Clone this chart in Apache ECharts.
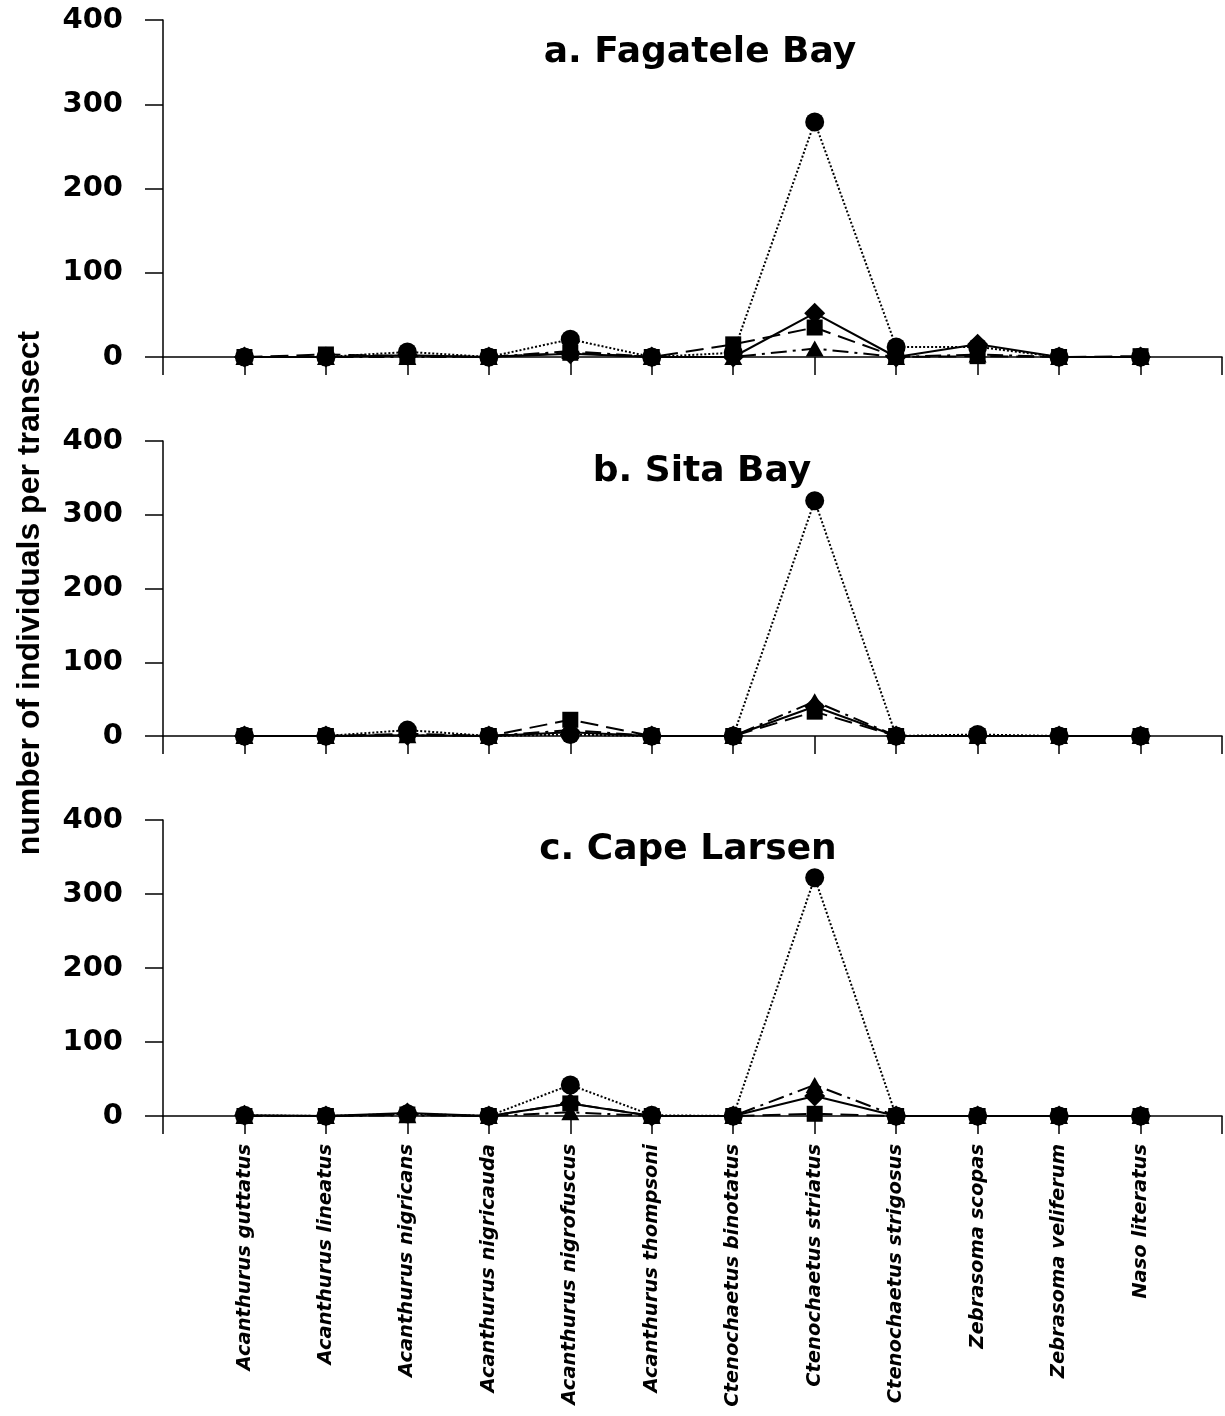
<!DOCTYPE html>
<html><head><meta charset="utf-8">
<script src="https://cdn.jsdelivr.net/npm/echarts@6/dist/echarts.min.js"></script>
<style>html,body{margin:0;padding:0;background:#fff}#c{width:1225px;height:1416px}</style>
</head><body><div id="c"></div>
<script>
const categories = ["Acanthurus guttatus","Acanthurus lineatus","Acanthurus nigricans","Acanthurus nigricauda","Acanthurus nigrofuscus","Acanthurus thompsoni","Ctenochaetus binotatus","Ctenochaetus striatus","Ctenochaetus strigosus","Zebrasoma scopas","Zebrasoma veliferum","Naso literatus"];
const panelTitles = ["a. Fagatele Bay","b. Sita Bay","c. Cape Larsen"];
const yTicks = [0,100,200,300,400];
// panel a
const aCircle   = [0,0,6,0,21,0,5,279,12,12,0,0];
const aDiamond  = [0,0,2,0,4,0,0,52,0,15,0,0];
const aSquare   = [0,3,1,0,5,0,15,35,0,1,0,1];
const aTriangle = [0,0,0,0,7,0,0,10,0,3,0,0];
// panel b
const bCircle   = [0,0,8,0,2,0,0,319,0,2,0,0];
const bDiamond  = [0,0,1,0,5,0,0,40,0,0,0,0];
const bSquare   = [0,0,3,0,22,0,0,33,0,0,0,0];
const bTriangle = [0,0,1,0,8,0,0,47,0,0,0,0];
// panel c
const cCircle   = [1,0,3,0,42,1,0,322,0,0,0,0];
const cDiamond  = [1,0,4,0,17,0,0,27,0,0,0,0];
const cSquare   = [0,0,2,0,17,0,0,3,0,0,0,0];
const cTriangle = [0,0,1,0,5,0,0,42,0,0,0,0];

const panels = [
  {circle:aCircle, diamond:aDiamond, square:aSquare, triangle:aTriangle},
  {circle:bCircle, diamond:bDiamond, square:bSquare, triangle:bTriangle},
  {circle:cCircle, diamond:cDiamond, square:cSquare, triangle:cTriangle}
];
const gridTops = [20, 441, 820];
const gridHeights = [337, 295, 296];
const titleY = [48, 467, 845];
const titleX = [695, 697, 683];

const chart = echarts.init(document.getElementById('c'), null, {renderer:'canvas'});
const grids = [], xAxes = [], yAxes = [], series = [], titles = [];
const styles = {
  circle:   {symbol:'circle', size:19, line:{type:'dotted', width:2}},
  diamond:  {symbol:'diamond', size:[21,21], line:{type:'solid', width:2}},
  square:   {symbol:'rect', size:16, line:{type:[18,8], width:2}},
  triangle: {symbol:'triangle', size:[18,16], line:{type:[16,6,3,6], width:2}}
};
const order = ['triangle','square','diamond','circle'];
panels.forEach((p, i) => {
  grids.push({left:163, right:3, top:gridTops[i], height:gridHeights[i]});
  xAxes.push({
    type:'value', gridIndex:i, min:0, max:13, interval:1,
    axisLine:{show:true, onZero:false, lineStyle:{color:'#000', width:1.5}},
    axisTick:{show:true, length:18, lineStyle:{color:'#000', width:1.5}},
    splitLine:{show:false},
    axisLabel:{show:i===2, rotate:90, margin:28, color:'#000',
      fontFamily:'DejaVu Sans', fontWeight:'bold', fontStyle:'italic', fontSize:19.5,
      formatter:(v)=> (v>=1 && v<=12) ? categories[v-1] : ''}
  });
  yAxes.push({
    type:'value', gridIndex:i, min:0, max:400, interval:100,
    axisLine:{show:true, lineStyle:{color:'#000', width:1.5}},
    axisTick:{show:true, length:18, lineStyle:{color:'#000', width:1.5}},
    splitLine:{show:false},
    axisLabel:{margin:40, color:'#000', fontFamily:'DejaVu Sans', fontWeight:'bold', fontSize:29,
      formatter:(v)=> yTicks.includes(v) ? String(v) : ''}
  });
  titles.push({text:panelTitles[i], left:titleX[i], top:titleY[i], textAlign:'center', textVerticalAlign:'middle',
    textStyle:{fontFamily:'DejaVu Sans', fontWeight:'bold', fontSize:36, color:'#000'}});
  order.forEach(k => {
    const s = styles[k];
    series.push({
      type:'line', xAxisIndex:i, yAxisIndex:i,
      data:p[k].map((v,j)=>[j+1, v]),
      symbol:s.symbol, symbolSize:s.size, showSymbol:true,
      itemStyle:{color:'#000'},
      lineStyle:{color:'#000', width:s.line.width, type:s.line.type},
      animation:false, z: 3
    });
  });
});

chart.setOption({
  backgroundColor:'#fff',
  animation:false,
  title: titles,
  grid: grids, xAxis: xAxes, yAxis: yAxes, series: series,
  graphic:[{
    type:'text', x:30, y:593, rotation:Math.PI/2,
    style:{text:'number of individuals per transect', fill:'#000',
      font:'bold 32px "Liberation Sans", Arial, sans-serif', textAlign:'center', textVerticalAlign:'middle'}
  }]
});
</script></body></html>
